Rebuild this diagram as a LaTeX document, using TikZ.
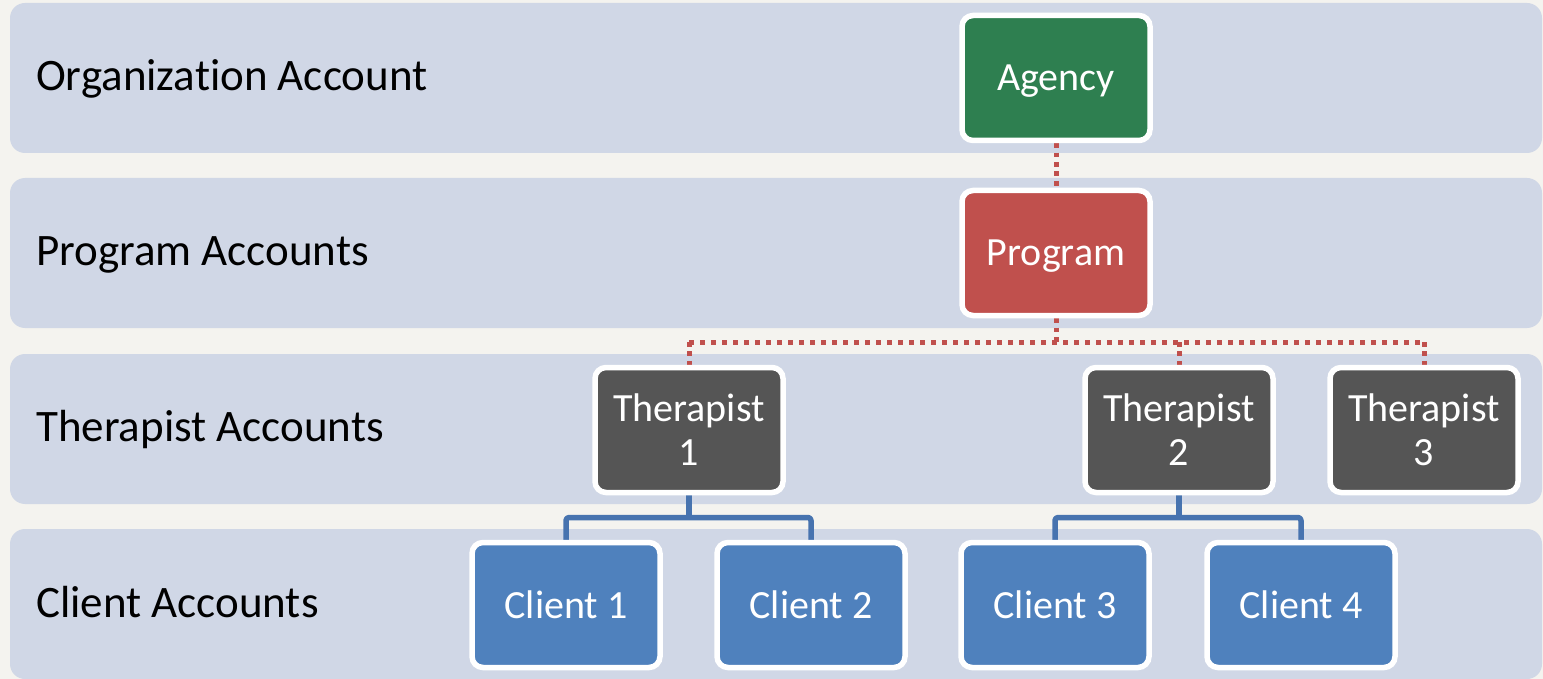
\documentclass[tikz,border=0pt]{standalone}
\usepackage{fontspec}
\setmainfont{Carlito}[Ligatures=NoCommon]
\usetikzlibrary{backgrounds}
\definecolor{bgc}{HTML}{F4F3EF}
\definecolor{bandc}{HTML}{D0D7E6}
\definecolor{greenc}{HTML}{2E7F50}
\definecolor{redc}{HTML}{C0504D}
\definecolor{grayc}{HTML}{555555}
\definecolor{bluec}{HTML}{4F81BD}
\definecolor{bluel}{HTML}{4773AF}
\tikzset{
  band/.style={fill=bandc, draw=none, rounded corners=15pt},
  lbl/.style={anchor=base west, inner sep=0pt, font=\fontsize{45}{50}\selectfont, text=black},
  boxbase/.style={draw=white, line width=5.5pt, rounded corners=11pt, minimum width=188pt, minimum height=125pt, text=white, inner sep=0pt, font=\fontsize{40}{44}\selectfont, align=center},
  onebox/.style={boxbase, text height=26pt, text depth=0pt},
  twobox/.style={boxbase},
  reddotv/.style={draw=redc, line width=5pt, dash pattern=on 4.7pt off 4.7pt},
  reddoth/.style={draw=redc, line width=5pt, dash pattern=on 5pt off 6pt},
  blueline/.style={draw=bluel, line width=5.5pt, line join=round, rounded corners=3pt},
}
\begin{document}
\begin{tikzpicture}[x=1pt,y=-1pt]
\useasboundingbox (0,0) rectangle (1543,679);
% nodes
\node[onebox, fill=greenc] (agency) at (1056,78) {Agency};
\node[onebox, fill=redc] (program) at (1056,253) {Program};
\node[twobox, fill=grayc] (t1) at (689,430) {Therapist\\1};
\node[twobox, fill=grayc] (t2) at (1179,430) {Therapist\\2};
\node[twobox, fill=grayc] (t3) at (1424,430) {Therapist\\3};
\node[onebox, fill=bluec] (c1) at (566,605) {Client 1};
\node[onebox, fill=bluec] (c2) at (811,605) {Client 2};
\node[onebox, fill=bluec] (c3) at (1055,605) {Client 3};
\node[onebox, fill=bluec] (c4) at (1301,605) {Client 4};
\coordinate (rbus) at (0,342);
\coordinate (bbus) at (0,517.5);
\begin{scope}[on background layer]
\fill[bgc] (0,0) rectangle (1543,679);
\fill[band] (10,3) rectangle (1542,153);
\fill[band] (10,178) rectangle (1542,328);
\fill[band] (10,354) rectangle (1542,504);
\fill[band] (10,529) rectangle (1542,679);
\draw[reddotv] (agency.south) -- (program.north);
\draw[reddotv] (program.south) -- (program.south |- rbus);
\draw[reddoth] (t1.north |- rbus) -- (t3.north |- rbus);
\draw[reddotv] (t1.north |- rbus) -- (t1.north);
\draw[reddotv] (t2.north |- rbus) -- (t2.north);
\draw[reddotv] (t3.north |- rbus) -- (t3.north);
\draw[blueline] (t1.south) -- (t1.south |- bbus);
\draw[blueline] (c1.north) -- (c1.north |- bbus) -- (c2.north |- bbus) -- (c2.north);
\draw[blueline] (t2.south) -- (t2.south |- bbus);
\draw[blueline] (c3.north) -- (c3.north |- bbus) -- (c4.north |- bbus) -- (c4.north);
\end{scope}
% labels
\node[lbl] (l1) at (36,90.5) {Organization Account};
\node[lbl] (l2) at (36,265.5) {Program Accounts};
\node[lbl] (l3) at (36,441.5) {Therapist Accounts};
\node[lbl] (l4) at (36,617.5) {Client Accounts};
\end{tikzpicture}
\end{document}
